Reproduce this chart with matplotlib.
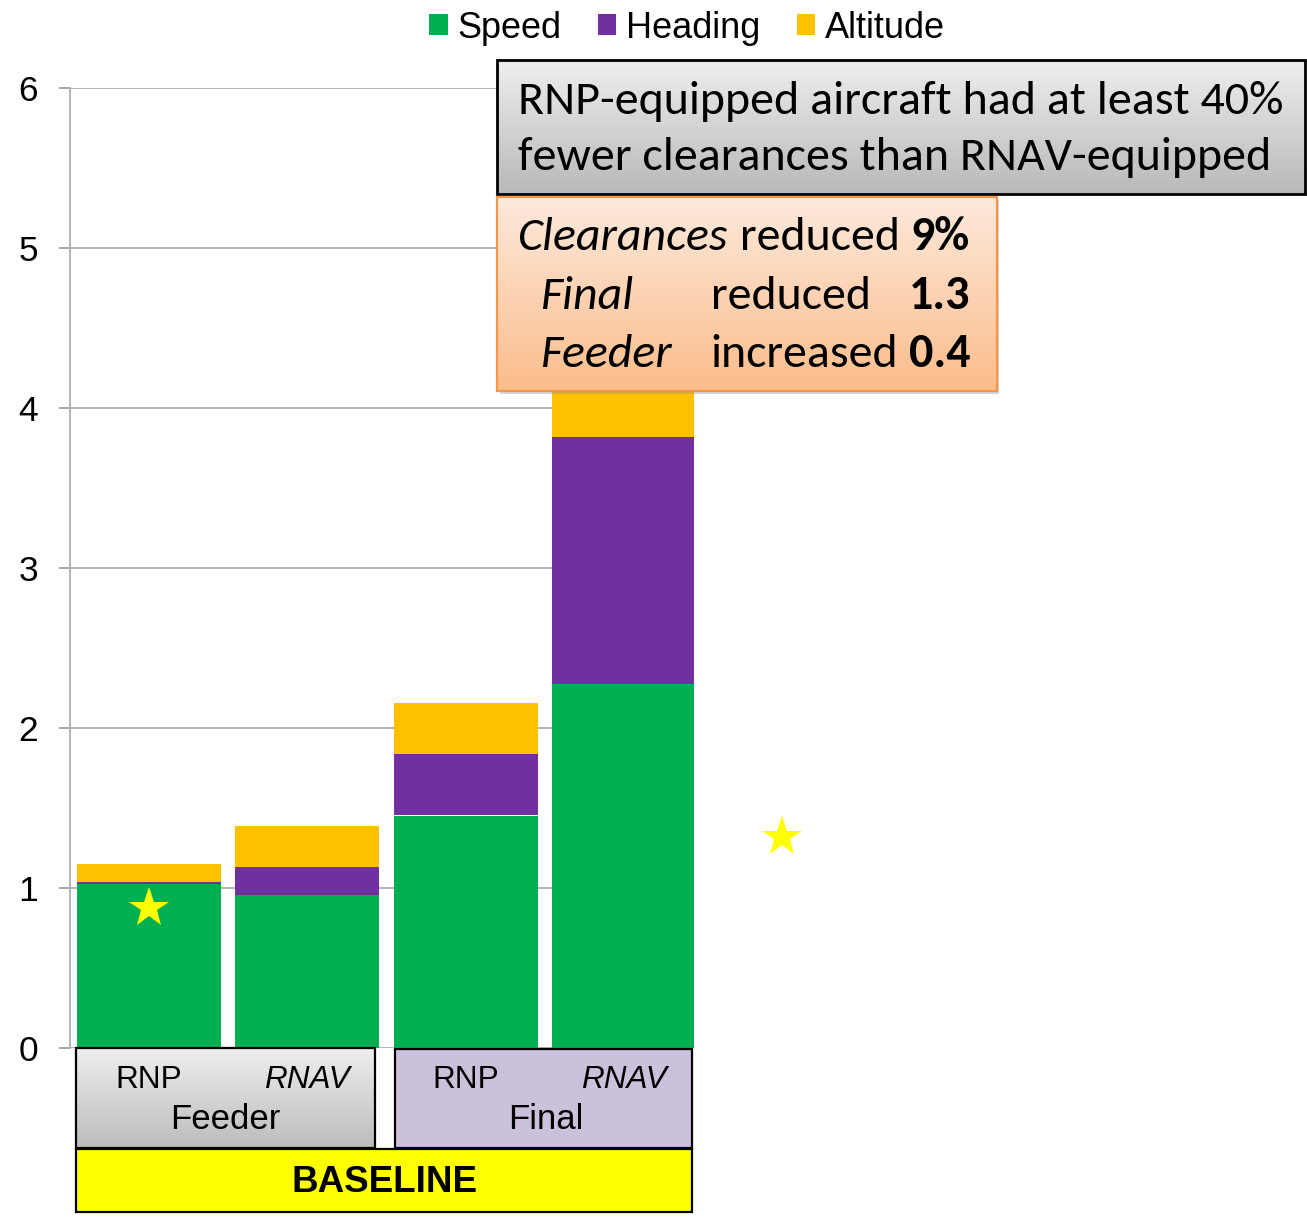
import matplotlib
matplotlib.use('Agg')
import matplotlib.pyplot as plt
import matplotlib.patches as mpatches
import matplotlib.transforms as mtransforms
from matplotlib.colors import LinearSegmentedColormap
import numpy as np

# ----------------------------------------------------------------------
# Data
# ----------------------------------------------------------------------
equipage = ['RNP', 'RNAV', 'RNP', 'RNAV']
phases = ['Feeder', 'Final']
series = ['Speed', 'Heading', 'Altitude']
speed = [1.025, 0.96, 1.455, 2.275]
heading = [0.015, 0.175, 0.385, 1.545]
altitude = [0.11, 0.255, 0.315, 0.45]
star_x = [0.0, 4.0]
star_y = [0.88, 1.32]
yticks = [0, 1, 2, 3, 4, 5, 6]

COLORS = ['#00b050', '#7030a0', '#ffc000']
W, H = 1307, 1217

ARIAL = ['Liberation Sans', 'DejaVu Sans']
CALIBRI = ['Carlito', 'Lato', 'DejaVu Sans']

plt.rcParams['font.family'] = ARIAL

fig = plt.figure(figsize=(W / 100, H / 100), dpi=100)
ax = fig.add_axes([70 / W, 1 - 1048.3 / H, 623.5 / W, 960 / H])

x = np.arange(len(speed))
bottom = np.zeros(len(speed))
handles = []
for vals, name, col in zip([speed, heading, altitude], series, COLORS):
    b = ax.bar(x, vals, width=0.91, bottom=bottom, color=col, label=name,
               linewidth=0, zorder=3)
    handles.append(b)
    bottom += np.array(vals)

ax.plot(star_x, star_y, linestyle='none', marker='*', markersize=30,
        color='#ffff00', markeredgewidth=0, zorder=5, clip_on=False)

ax.set_xlim(-0.5, 3.44)
ax.set_ylim(0, 6)
ax.set_yticks(yticks)
ax.set_xticks([])
ax.tick_params(axis='y', labelsize=25.5, length=8, width=1.4, color='#a6a6a6',
               pad=15, labelcolor='black')
ax.grid(True, axis='y', color='#b4b4b4', linewidth=1.4, zorder=0)
for s in ['top', 'right', 'bottom']:
    ax.spines[s].set_visible(False)
ax.spines['left'].set_color('#b4b4b4')
ax.spines['left'].set_linewidth(1.4)

fig.legend(handles=handles, labels=series, loc='center', ncol=3,
           bbox_to_anchor=(687 / W, 1 - 28 / H), frameon=False, fontsize=26,
           handlelength=0.52, handleheight=0.52, handletextpad=0.27,
           columnspacing=1.0, borderaxespad=0, borderpad=0)

# ----------------------------------------------------------------------
# Overlay in pixel coordinates for the boxes
# ----------------------------------------------------------------------
ov = fig.add_axes([0, 0, 1, 1], zorder=10)
ov.patch.set_visible(False)
ov.axis('off')


def grad_box(x0, y0, x1, y1, c_top, c_bot, edge, lw):
    cmap = LinearSegmentedColormap.from_list('g', [c_top, c_bot])
    ov.imshow(np.linspace(0, 1, 100).reshape(-1, 1), cmap=cmap,
              extent=(x0, x1, y1, y0), aspect='auto', zorder=2)
    ov.add_patch(mpatches.Rectangle((x0, y0), x1 - x0, y1 - y0, fill=False,
                                    edgecolor=edge, linewidth=lw, zorder=3))


# orange box shadow
ov.add_patch(mpatches.Rectangle((500, 200), 499.4, 194, color='#8c8c8c',
                                alpha=0.35, linewidth=0, zorder=1))
grad_box(497.3, 60, 1305, 194.3, '#eeeeee', '#b9b9b9', 'black', 2)
grad_box(497.3, 197.3, 996.7, 391, '#fde9dc', '#fbbd8b', '#f79646', 1.6)

ov.text(518.3, 114.3, 'RNP-equipped aircraft had at least 40%', fontsize=34.6,
        family=CALIBRI, va='baseline', zorder=4)
ov.text(518.3, 170, 'fewer clearances than RNAV-equipped', fontsize=34.6,
        family=CALIBRI, va='baseline', zorder=4)

rows = [('Clearances', 'reduced', '9%'),
        ('Final', 'reduced', '1.3'),
        ('Feeder', 'increased', '0.4')]
row_base = [250, 309, 366.7]
col1 = [518.3, 540, 540]
col2 = [740, 710.7, 710.7]
for (a, b, c), yb, x1, x2 in zip(rows, row_base, col1, col2):
    ov.text(x1, yb, a, fontsize=34.5, family=CALIBRI, style='italic',
            va='baseline', zorder=4)
    ov.text(x2, yb, b, fontsize=34.5, family=CALIBRI, va='baseline', zorder=4)
    ov.text(970, yb, c, fontsize=34.5, family=CALIBRI, weight='bold',
            ha='right', va='baseline', zorder=4)

# category boxes under the bars
grad_box(76, 1047.7, 374.7, 1147.7, '#eeeeee', '#bcbcbc', 'black', 1.6)
ov.add_patch(mpatches.Rectangle((395, 1049), 297.3, 98.7, facecolor='#ccc1da',
                                edgecolor='black', linewidth=1.6, zorder=3))
ov.add_patch(mpatches.Rectangle((76, 1149.3), 616.3, 63, facecolor='#ffff00',
                                edgecolor='black', linewidth=1.6, zorder=3))

mix = mtransforms.blended_transform_factory(ax.transData, ov.transData)
for i, lab in enumerate(equipage):
    ov.text(i, 1088.3, lab, transform=mix, fontsize=22.7, ha='center',
            va='baseline', style='italic' if lab == 'RNAV' else 'normal',
            zorder=4)
for cx, lab in zip([225.3, 545.7], phases):
    ov.text(cx, 1129.3, lab, fontsize=25, ha='center', va='baseline', zorder=4)
ov.text(385, 1191.7, 'BASELINE', fontsize=26.5, weight='bold', ha='center',
        va='baseline', zorder=4)

ov.set_xlim(0, W)
ov.set_ylim(H, 0)

fig.savefig('out.png', dpi=100)
